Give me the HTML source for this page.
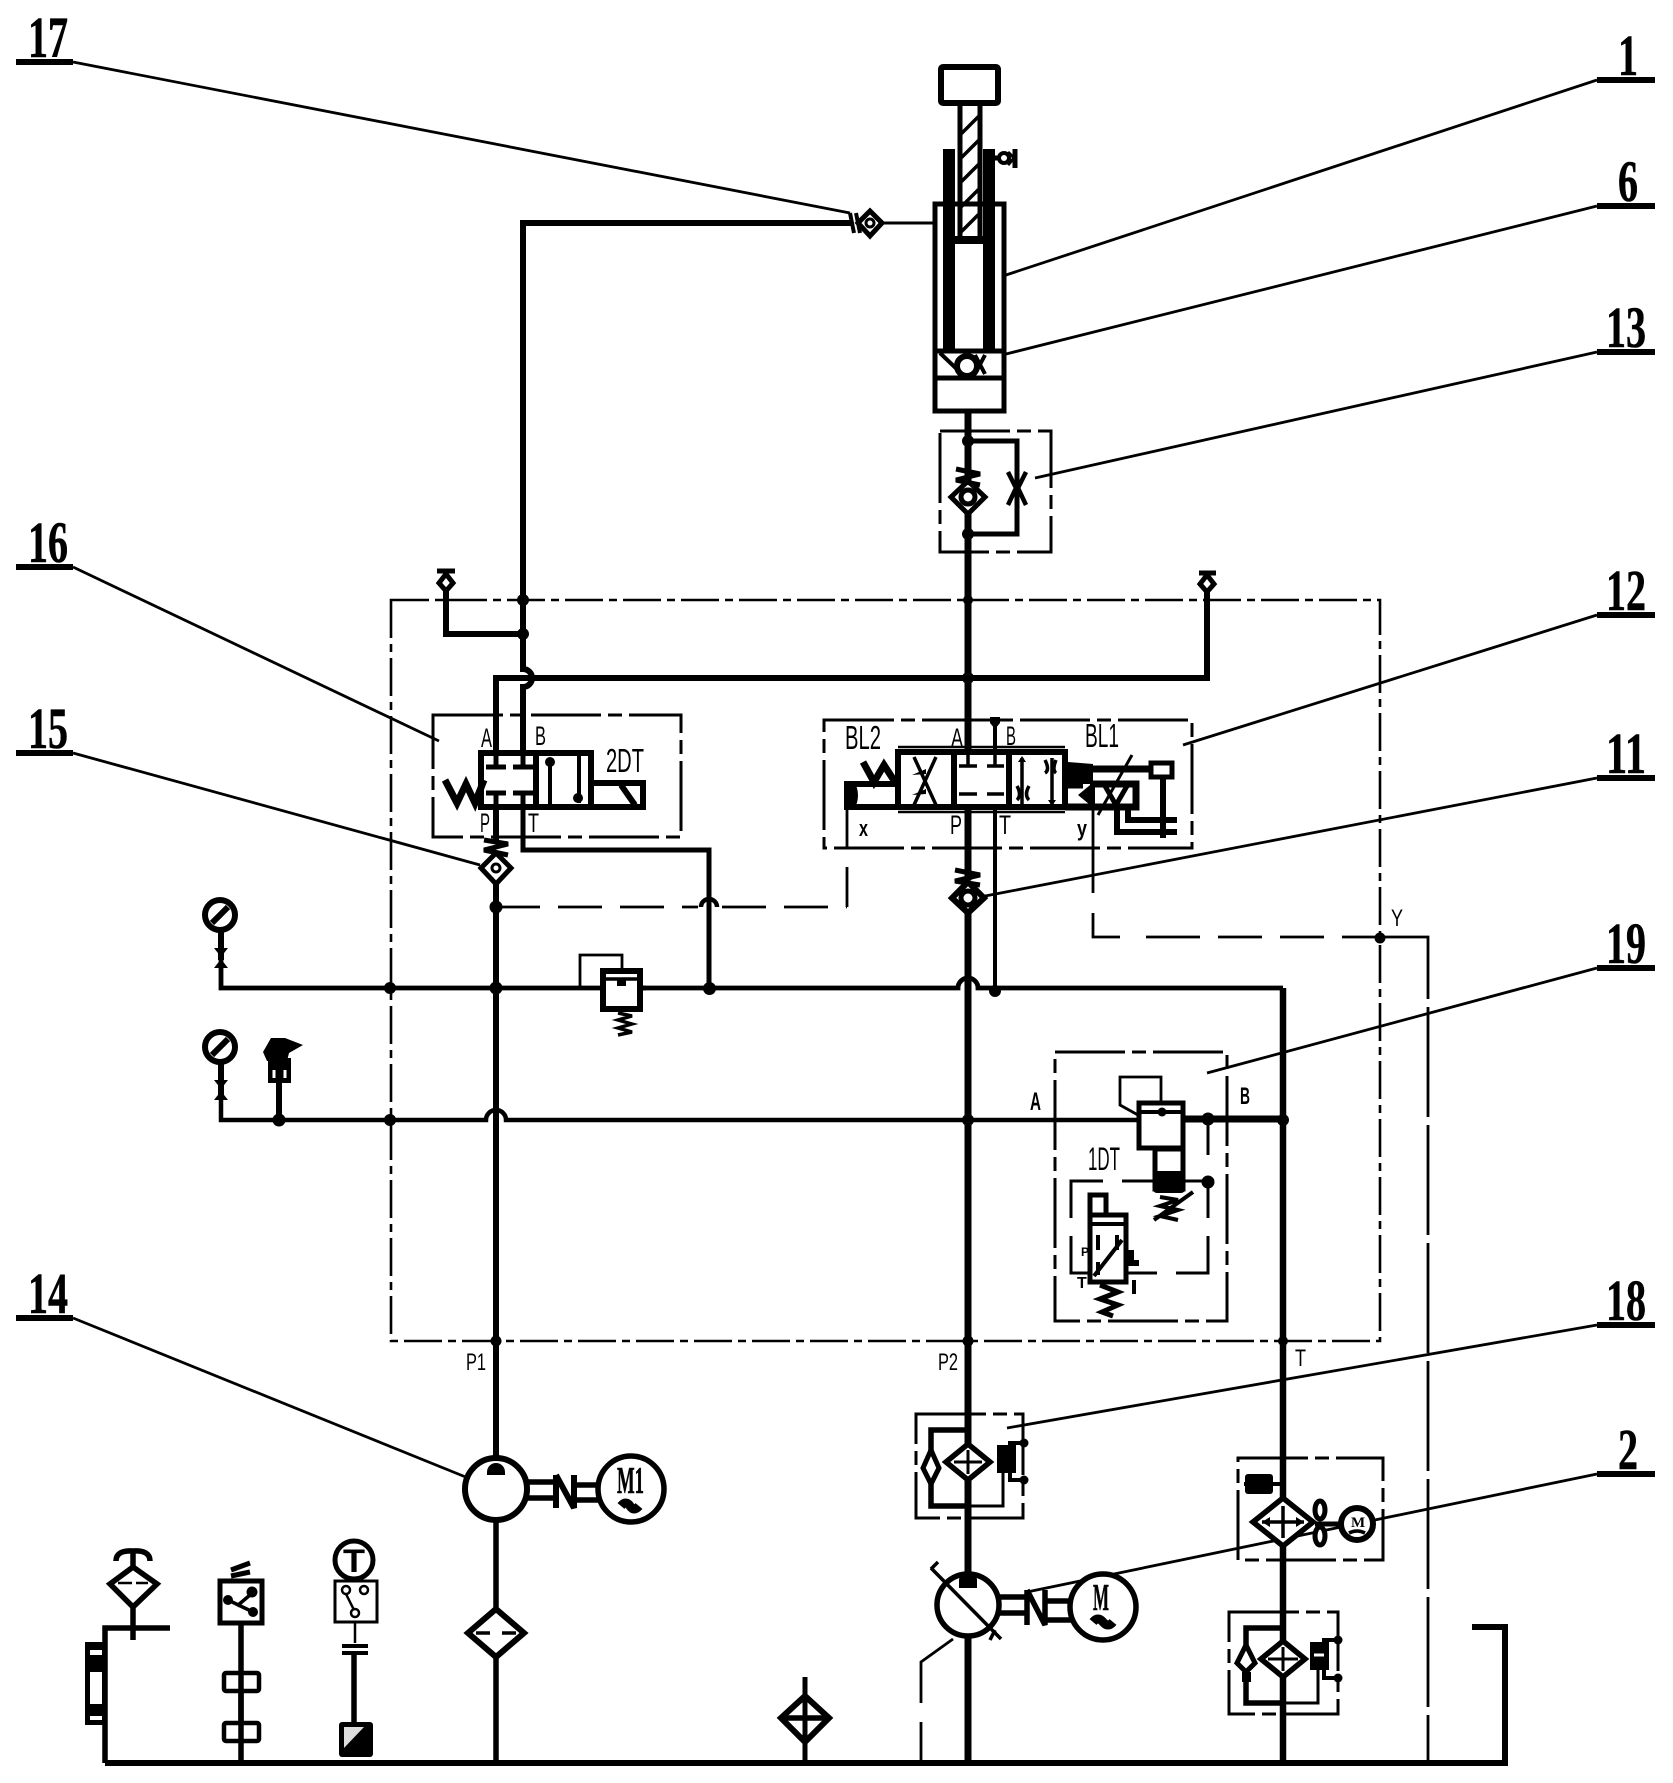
<!DOCTYPE html>
<html><head><meta charset="utf-8"><style>
html,body{margin:0;padding:0;background:#fff}
svg{display:block}
.n{font-family:"Liberation Serif",serif;font-weight:bold;font-size:58px;fill:#000;stroke:#000;stroke-width:.6}
.s{font-family:"Liberation Sans",sans-serif;font-size:27px;fill:#000}
.b{font-family:"Liberation Serif",serif;font-weight:bold;font-size:22px;fill:#000}
.f{fill:none;stroke:#000;stroke-linejoin:miter}
.w{fill:#fff;stroke:#000}
.k{fill:#000}
</style></head><body>
<svg xmlns="http://www.w3.org/2000/svg" width="1673" height="1783" viewBox="0 0 1673 1783">
<rect width="1673" height="1783" fill="#fff"/>

<!-- dashed boxes -->
<g class="f" stroke-width="2.6" stroke-dasharray="38 6 8 6">
<rect x="391" y="600" width="989" height="741"/>
</g>
<g class="f" stroke-width="3" stroke-dasharray="70 7 14 7">
<rect x="433" y="715" width="248" height="122"/>
<rect x="824" y="720" width="368" height="128"/>
<rect x="1055" y="1052" width="172" height="269"/>
<rect x="940" y="431" width="111" height="121"/>
<rect x="916" y="1414" width="107" height="104"/>
<rect x="1238" y="1458" width="145" height="102"/>
<rect x="1229" y="1612" width="109" height="102"/>
</g>

<!-- pilot dashed lines -->
<g class="f" stroke-width="2.8" stroke-dasharray="44 18">
<path d="M496 907 H698"/>
</g>
<path class="f" stroke-width="2.8" stroke-dasharray="44 18" d="M722 907 H847"/>
<path class="f" stroke-width="2.8" d="M847 907 V867 M847 807 V848"/>
<path class="f" stroke-width="2.8" d="M1093 808 V893 M1093 913 V937 H1120 M1146 937 H1200"/>
<path class="f" stroke-width="2.8" stroke-dasharray="44 18" d="M1218 937 H1380"/>
<path class="f" stroke-width="2.8" stroke-dasharray="110 8" d="M1380 937 H1428 V1763"/>
<path class="f" stroke-width="2.8" d="M921 1763 V1722"/><path class="f" stroke-width="2.8" d="M921 1703 V1662 L953 1639"/>

<!-- main lines -->
<g class="f" stroke-width="6">
<path d="M523 750 V687 a9 9 0 0 0 0 -18 V223 H852"/>
<path d="M496 750 V678 H1207 V590"/>
<path d="M523 634 H446 V590"/>
<path d="M523 807 V850 H709 V988" stroke-width="5"/>
<path d="M496 807 V842"/><path d="M496 880 V1460" stroke-width="6"/>
<path d="M496 1520 V1762" stroke-width="5.5"/>
<path d="M221 960 V988 H958 a10 10 0 0 1 20 0 H1283" stroke-width="4.8"/>
<path d="M221 1095 V1120 H486 a10 10 0 0 1 20 0 H1138" stroke-width="4.5"/>
<path d="M1183 1119 H1283" stroke-width="7"/>
<path d="M1283 988 V1762" stroke-width="6.5"/>
<path d="M968 412 V880" stroke-width="7"/><path d="M968 905 V1575" stroke-width="7"/><path d="M968 1636 V1762" stroke-width="7"/>
<path d="M995 722 V988" stroke-width="4"/>
<path d="M968 441 H1017 V534 H968" stroke-width="5"/>
<path d="M105 1763 V1628 H170" stroke-width="5.5"/>
<path d="M105 1763 H1505 V1627 H1472" stroke-width="6"/>
</g>
<path class="f" stroke-width="3" d="M882 223 H935"/>
<path d="M701 907 a8 8 0 0 1 16 0" class="f" stroke-width="4.5"/>

<!-- nodes -->
<g class="k">
<circle cx="523" cy="600" r="6"/><circle cx="523" cy="634" r="6"/>
<circle cx="968" cy="600" r="5"/><circle cx="968" cy="678" r="6"/>
<circle cx="496" cy="907" r="6.5"/><circle cx="390" cy="988" r="6"/><circle cx="496" cy="988" r="6.5"/>
<circle cx="709.5" cy="988.5" r="6.5"/><circle cx="995" cy="991" r="6"/>
<circle cx="279" cy="1120" r="6.5"/><circle cx="390" cy="1120" r="6"/><circle cx="968" cy="1120" r="6"/>
<circle cx="1208" cy="1119" r="6.5"/><circle cx="1283" cy="1120" r="6"/>
<circle cx="496" cy="1341" r="5.5"/><circle cx="968" cy="1341" r="5.5"/><circle cx="1283" cy="1341" r="5"/>
<circle cx="1380" cy="938" r="5.5"/><circle cx="968" cy="441" r="6"/><circle cx="968" cy="534" r="6"/>
</g>

<!-- leaders -->
<g class="f" stroke-width="2.8">
<path d="M73 62 L850 213"/><path d="M1597 80 L1006 275"/><path d="M1597 206 L1006 354"/>
<path d="M1597 352 L1035 478"/><path d="M1597 615 L1183 745"/><path d="M1597 778 L980 897"/>
<path d="M1597 968 L1207 1073"/><path d="M1597 1325 L1007 1428"/><path d="M1597 1474 L1027 1592"/>
<path d="M73 567 L439 741"/><path d="M73 753 L480 865"/><path d="M73 1318 L478 1482"/>
</g>
<g class="k">
<rect x="16" y="59" width="57" height="6"/><rect x="16" y="564" width="57" height="6"/><rect x="16" y="750" width="57" height="6"/><rect x="16" y="1315" width="57" height="6"/>
<rect x="1597" y="77" width="58" height="6"/><rect x="1597" y="203" width="58" height="6"/><rect x="1597" y="349" width="58" height="6"/><rect x="1597" y="612" width="58" height="6"/><rect x="1597" y="775" width="58" height="6"/><rect x="1597" y="965" width="58" height="6"/><rect x="1597" y="1322" width="58" height="6"/><rect x="1597" y="1471" width="58" height="6"/>
</g>
<g class="n">
<text x="28" y="57" textLength="40" lengthAdjust="spacingAndGlyphs">17</text>
<text x="28" y="562" textLength="40" lengthAdjust="spacingAndGlyphs">16</text>
<text x="28" y="748" textLength="40" lengthAdjust="spacingAndGlyphs">15</text>
<text x="28" y="1313" textLength="40" lengthAdjust="spacingAndGlyphs">14</text>
<text x="1618" y="75" textLength="20" lengthAdjust="spacingAndGlyphs">1</text>
<text x="1618" y="201" textLength="20" lengthAdjust="spacingAndGlyphs">6</text>
<text x="1606" y="347" textLength="40" lengthAdjust="spacingAndGlyphs">13</text>
<text x="1606" y="610" textLength="40" lengthAdjust="spacingAndGlyphs">12</text>
<text x="1606" y="773" textLength="40" lengthAdjust="spacingAndGlyphs">11</text>
<text x="1606" y="963" textLength="40" lengthAdjust="spacingAndGlyphs">19</text>
<text x="1606" y="1320" textLength="40" lengthAdjust="spacingAndGlyphs">18</text>
<text x="1618" y="1469" textLength="20" lengthAdjust="spacingAndGlyphs">2</text>
</g>

<!-- cylinder -->
<g>
<rect x="941" y="67" width="57" height="36" class="w" stroke-width="6" rx="2"/>
<rect x="935" y="204" width="69" height="207" class="w" stroke-width="5"/>
<rect x="943" y="149" width="12" height="201" class="k"/><rect x="983" y="149" width="12" height="201" class="k"/>
<rect x="955" y="236" width="28" height="8" class="k"/>
<path class="f" stroke-width="5" d="M960 103 V236 M980 103 V236"/>
<path class="f" stroke-width="3.5" d="M960 135 L980 115 M960 159 L980 139 M960 183 L980 163 M960 208 L980 188 M960 233 L980 213"/>
<path class="f" stroke-width="5" d="M935 351 H1004 M935 378 H1004" />
<path class="f" stroke-width="4" d="M940 353 L962 374 M975 374 L985 355 M985 374 L975 355"/>
<circle cx="967" cy="366" r="10" class="w" stroke-width="6"/>
<path class="f" stroke-width="5" d="M995 158 H1000"/>
<circle cx="1004" cy="158" r="5" class="w" stroke-width="4"/>
<path class="f" stroke-width="5" d="M1015 149 V168"/>
<path class="f" stroke-width="3" d="M1008 152 L1014 158 L1008 165"/>
</g>

<!-- check valves + springs -->
<g>
<polygon points="968,481 985,497 968,514 951,497" class="w" stroke-width="5"/>
<circle cx="968" cy="497" r="7" class="w" stroke-width="5"/>
<path class="f" stroke-width="5" d="M956 469 L980 474 L956 480 L980 485"/>
<path class="f" stroke-width="4.5" d="M1008 472 L1016 488 L1008 505 M1026 472 L1018 488 L1026 505"/>

<polygon points="496,853 511,868 496,884 481,868" class="w" stroke-width="5"/>
<circle cx="496" cy="868" r="4" class="w" stroke-width="3"/>
<path class="f" stroke-width="5" d="M484 840 L508 844 L484 850 L508 855"/>

<polygon points="968,882 984,898 968,913 952,898" class="w" stroke-width="6"/>
<circle cx="968" cy="898" r="7" class="w" stroke-width="5"/>
<path class="f" stroke-width="5" d="M955 870 L980 875 L955 881 L980 885"/>

<polygon points="870,211 882,223 870,236 858,223" class="w" stroke-width="5"/>
<circle cx="870" cy="223" r="4" class="w" stroke-width="3"/>
<path class="f" stroke-width="4" d="M850 213 L854 233 M856 213 L860 233"/>
</g>

<!-- top stops -->
<g>
<path class="f" stroke-width="5" d="M437 571 H455 M1199 573 H1216"/>
<polygon points="446,574 453,583 446,591 439,583" class="w" stroke-width="5"/>
<polygon points="1207,575 1214,584 1207,592 1200,584" class="w" stroke-width="5"/>
</g>

<!-- valve 16 -->
<g>
<rect x="481" y="753" width="110" height="54" class="w" stroke-width="6"/>
<path class="f" stroke-width="6" d="M536 753 V807"/>
<path class="f" stroke-width="4" d="M550 760 V805 M579 753 V803"/>
<circle cx="550" cy="762" r="5" class="k"/><circle cx="578" cy="798" r="5" class="k"/>
<path class="f" stroke-width="5" d="M496 753 V765 M523 753 V765 M486 767 H506 M513 767 H533 M486 793 H506 M513 793 H533 M496 795 V807 M523 795 V807"/>
<path class="f" stroke-width="7" d="M445 780 L457 803 L466 784 L475 803 L484 780"/>
<path class="f" stroke-width="6" d="M591 783 H643 V807 H591"/>
<path class="f" stroke-width="6" d="M621 785 L635 805"/>
<g class="s">
<text x="481" y="747" textLength="11" lengthAdjust="spacingAndGlyphs">A</text>
<text x="535" y="745" textLength="11" lengthAdjust="spacingAndGlyphs">B</text>
<text x="480" y="832" textLength="10" lengthAdjust="spacingAndGlyphs">P</text>
<text x="528" y="832" textLength="11" lengthAdjust="spacingAndGlyphs">T</text>
<text x="606" y="772" style="font-size:33px" textLength="38" lengthAdjust="spacingAndGlyphs">2DT</text>
</g>
</g>

<!-- valve 12 -->
<g>
<rect x="898" y="752" width="167" height="55" class="w" stroke-width="6"/>
<path class="f" stroke-width="2.5" d="M898 747 H1065 M898 812 H1065"/>
<path class="f" stroke-width="6" d="M954 752 V807 M1009 752 V807"/>
<path class="f" stroke-width="3.5" d="M914 757 L936 805 M936 757 L914 805 M1022 758 V805 M1052 758 V805"/>
<path class="k" d="M912 775 l14 -6 v5z M912 795 l14 -6 v5z M1018 762 h8 l-4 -6z M1048 800 h8 l-4 6z"/>
<path class="f" stroke-width="3.5" d="M1045 760 Q1050 770 1045 773 M1056 760 Q1052 770 1056 773 M1017 786 Q1022 795 1017 800 M1029 786 Q1024 795 1029 800"/>
<path class="f" stroke-width="3.5" d="M968 752 V766 M995 752 V766 M959 766 H977 M987 766 H1004 M959 794 H977 M987 794 H1004"/>
<rect x="847" y="784" width="51" height="23" class="f" stroke-width="6"/>
<path class="k" d="M844 781 h10 q8 14 0 29 h-10z"/>
<path class="f" stroke-width="7" d="M863 762 L874 782 L884 765 L895 782"/>
<path class="k" d="M990 717 h10 v6 l-5 6 l-5 -6z"/>
<path class="f" stroke-width="7" d="M1065 769 H1150 M1065 785 H1083 M1065 807 H1136 V784 H1090"/>
<path class="k" d="M1095 781 l-17 14 l17 14z M1068 762 l25 2 v20 h-25z"/>
<rect x="1151" y="763" width="21" height="14" class="w" stroke-width="5"/>
<path class="f" stroke-width="5" d="M1105 786 L1116 805 M1127 786 L1116 805"/>
<path class="f" stroke-width="3" d="M1098 815 L1132 755"/>
<path class="f" stroke-width="6" d="M1163 777 V838 M1128 808 V820 H1177 M1117 808 V832 H1177"/>
<g class="s">
<text x="845" y="749" style="font-size:33px" textLength="36" lengthAdjust="spacingAndGlyphs">BL2</text>
<text x="1085" y="747" style="font-size:33px" textLength="34" lengthAdjust="spacingAndGlyphs">BL1</text>
<text x="951" y="747" textLength="12" lengthAdjust="spacingAndGlyphs">A</text>
<text x="1006" y="745" textLength="10" lengthAdjust="spacingAndGlyphs">B</text>
<text x="950" y="834" textLength="12" lengthAdjust="spacingAndGlyphs">P</text>
<text x="999" y="834" textLength="12" lengthAdjust="spacingAndGlyphs">T</text>
<text x="859" y="836" style="font-size:22px;font-weight:bold" textLength="9" lengthAdjust="spacingAndGlyphs">x</text>
<text x="1077" y="836" style="font-size:22px;font-weight:bold" textLength="10" lengthAdjust="spacingAndGlyphs">y</text>
<text x="1391" y="926" style="font-size:24px" textLength="12" lengthAdjust="spacingAndGlyphs">Y</text>
<text x="1030" y="1110" style="font-size:25px;font-weight:bold" textLength="11" lengthAdjust="spacingAndGlyphs">A</text>
<text x="1240" y="1104" style="font-size:24px;font-weight:bold" textLength="10" lengthAdjust="spacingAndGlyphs">B</text>
<text x="466" y="1370" style="font-size:24px" textLength="20" lengthAdjust="spacingAndGlyphs">P1</text>
<text x="938" y="1370" style="font-size:24px" textLength="20" lengthAdjust="spacingAndGlyphs">P2</text>
<text x="1295" y="1366" style="font-size:24px" textLength="11" lengthAdjust="spacingAndGlyphs">T</text>
<text x="1088" y="1170" style="font-size:32px" textLength="32" lengthAdjust="spacingAndGlyphs">1DT</text>
</g>
</g>

<!-- gauges -->
<g>
<circle cx="220" cy="915" r="15" class="w" stroke-width="6"/>
<path class="f" stroke-width="6" d="M212 923 L228 907"/>
<circle cx="220" cy="1047" r="15" class="w" stroke-width="6"/>
<path class="f" stroke-width="6" d="M212 1055 L228 1039"/>
<path class="f" stroke-width="6" d="M221 932 V960 M221 1063 V1095"/>
<path class="k" d="M214 948 h14 l-7 9z M214 968 h14 l-7 -9z M214 1080 h14 l-7 9z M214 1100 h14 l-7 -9z"/>
<rect x="268" y="1058" width="23" height="25" class="k"/>
<path class="k" d="M263 1052 l8 -14 h14 l18 7 l-14 8 l-2 8 h-20z"/>
<path class="f" stroke="#fff" style="stroke:#fff" stroke-width="3" d="M274 1070 v8 M285 1070 v8"/>
<path class="f" stroke-width="6" d="M279 1083 V1120"/>
</g>

<!-- relief valve -->
<g>
<path class="f" stroke-width="2.8" d="M580 988 V955 H622 V970"/>
<rect x="603" y="971" width="37" height="38" class="w" stroke-width="6"/>
<path class="f" stroke-width="3.5" d="M605 979 H638"/><rect x="617" y="979" width="9" height="7" class="k"/>
<path class="f" stroke-width="3.5" d="M618 1013 L632 1016 L618 1020 L632 1024 L618 1028 L632 1032 L618 1035"/>
<path class="f" stroke-width="5" d="M640 988 H646"/>
</g>

<!-- valve 19 internals -->
<g>
<path class="f" stroke-width="2.8" d="M1138 1115 L1120 1105 V1077 H1161 V1102"/>
<rect x="1139" y="1103" width="44" height="45" class="w" stroke-width="5"/>
<path class="f" stroke-width="4" d="M1139 1112 H1183"/><circle cx="1162" cy="1112" r="4.5" class="k"/>
<rect x="1155" y="1149" width="28" height="40" class="w" stroke-width="5"/>
<rect x="1153" y="1171" width="32" height="22" rx="4" class="k"/>
<path class="f" stroke-width="4" d="M1160 1197 L1178 1200 L1160 1206 L1178 1210 L1160 1216 L1178 1220 M1154 1220 L1193 1192"/>
<path class="f" stroke-width="3" d="M1208 1119 V1155 M1208 1182 V1218 M1208 1236 V1273 H1176 M1157 1273 H1125"/>
<path class="f" stroke-width="3" d="M1208 1181 H1122 M1103 1181 H1071 V1218 M1071 1236 V1273 H1088"/>
<circle cx="1208" cy="1182" r="6.5" class="k"/>
<rect x="1090" y="1195" width="16" height="20" class="w" stroke-width="5"/>
<rect x="1090" y="1215" width="36" height="67" class="w" stroke-width="5"/>
<path class="f" stroke-width="4" d="M1090 1224 H1126 M1094 1276 L1122 1240 M1098 1235 V1250 M1117 1235 V1250 M1098 1262 V1275"/>
<path class="f" stroke-width="5" d="M1100 1285 L1118 1292 L1100 1299 L1118 1305 L1102 1312 L1113 1316"/>
<path class="k" d="M1128 1250 h6 v10 h5 v6 h-11z"/>
<text class="s" x="1081" y="1256" style="font-size:12px;font-weight:bold">P</text>
<text class="s" x="1077" y="1288" style="font-size:16px;font-weight:bold">T</text>
<rect x="1132" y="1280" width="4" height="14" class="k"/>
</g>

<!-- pump 14 + motor M1 -->
<g>
<circle cx="496" cy="1489" r="31" class="w" stroke-width="6"/>
<path class="k" d="M487 1472 a9 9 0 0 1 18 0 v3 h-18z"/>
<path class="f" stroke-width="5.5" d="M527 1482 H555 M527 1498 H555 M575 1485 H600 M575 1500 H600"/>
<path class="f" stroke-width="6" d="M556 1475 V1508 M556 1475 L574 1508 V1475"/>
<circle cx="631" cy="1489" r="33" class="w" stroke-width="5.5"/>
<text class="n" x="617" y="1493" style="font-size:38px" textLength="27" lengthAdjust="spacingAndGlyphs">M1</text>
<path class="f" stroke-width="9" d="M621 1506 q5 -6 9 0 t9 0"/>
<polygon points="496,1609 524,1633 496,1657 468,1633" class="w" stroke-width="6"/>
<path class="f" stroke-width="3.5" d="M476 1633 H490 M502 1633 H516"/>
</g>

<!-- filter 18 -->
<g>
<path class="f" stroke-width="5.5" d="M968 1430 H931 V1506 H968"/>
<polygon points="931,1450 939,1468 931,1484 923,1468" class="w" stroke-width="5"/>
<path class="f" stroke-width="3" d="M968 1506 H1003 V1470"/>
<polygon points="968,1444 990,1462 968,1480 946,1462" class="w" stroke-width="5.5"/>
<path class="f" stroke-width="3" d="M954 1462 H982 M968 1450 V1474"/>
<rect x="997" y="1445" width="19" height="28" class="k"/>
<path class="f" stroke-width="4" d="M1010 1445 V1443 H1023 M1010 1471 V1480 H1023"/>
<circle cx="1024" cy="1443" r="4.5" class="k"/><circle cx="1024" cy="1480" r="4.5" class="k"/>
</g>

<!-- pump 2 + motor -->
<g>
<circle cx="968" cy="1605" r="31" class="w" stroke-width="5.5"/>
<path class="k" d="M959 1580 a9 7 0 0 1 18 0 v8 h-18z"/>
<path class="f" stroke-width="3.5" d="M931 1568 L1001 1639"/>
<path class="f" stroke-width="3.5" d="M938 1562 L931 1569 M995 1630 L990 1640"/>
<path class="f" stroke-width="5.5" d="M999 1597 H1027 M999 1613 H1027 M1045 1601 H1072 M1045 1620 H1072"/>
<path class="f" stroke-width="5.5" d="M1027 1590 V1625 M1027 1590 L1045 1625 V1590"/>
<circle cx="1103" cy="1607" r="33" class="w" stroke-width="5.5"/>
<text class="n" x="1093" y="1610" style="font-size:38px" textLength="16" lengthAdjust="spacingAndGlyphs">M</text>
<path class="f" stroke-width="9" d="M1093 1622 q5 -6 10 0 t10 0"/>
</g>

<!-- cooler box -->
<g>
<polygon points="1283,1498 1313,1522 1283,1546 1253,1522" class="w" stroke-width="5.5"/>
<path class="f" stroke-width="3.5" d="M1262 1522 H1304 M1283 1506 V1538"/>
<path class="k" d="M1262 1522 l8 -5 v10z M1304 1522 l-8 -5 v10z"/>
<rect x="1245" y="1474" width="28" height="20" rx="3" class="k"/><path class="f" stroke-width="4" d="M1272 1484 H1284 M1244 1484 H1250"/>
<path class="f" stroke-width="5" d="M1315 1524 H1340"/>
<ellipse cx="1320" cy="1510" rx="5" ry="9" class="w" stroke-width="5"/><ellipse cx="1320" cy="1536" rx="5" ry="9" class="w" stroke-width="5"/>
<circle cx="1357" cy="1524" r="16" class="w" stroke-width="6"/>
<text class="b" x="1351" y="1527" style="font-size:15px">M</text>
<path class="f" stroke-width="3.5" d="M1349 1533 q8 -4 16 0"/>
</g>

<!-- lower filter -->
<g>
<path class="f" stroke-width="5.5" d="M1283 1628 H1246 V1703 H1283"/>
<polygon points="1246,1645 1255,1663 1246,1672 1237,1663" class="w" stroke-width="5"/>
<rect x="1242" y="1672" width="9" height="10" class="k"/>
<path class="f" stroke-width="3" d="M1283 1703 H1318 V1668"/>
<polygon points="1283,1641 1305,1659 1283,1677 1261,1659" class="w" stroke-width="5.5"/>
<path class="f" stroke-width="3" d="M1268 1659 H1298 M1283 1647 V1671"/>
<rect x="1310" y="1642" width="19" height="28" class="k"/><path class="f" style="stroke:#fff" stroke-width="3" d="M1314 1655 H1324"/>
<path class="f" stroke-width="4" d="M1324 1642 V1640 H1338 M1324 1669 V1678 H1338"/>
<circle cx="1338" cy="1640" r="4.5" class="k"/><circle cx="1338" cy="1678" r="4.5" class="k"/>
</g>

<!-- centre bottom filter -->
<g>
<path class="f" stroke-width="5" d="M805 1677 V1763"/>
<polygon points="805,1696 829,1718 805,1742 781,1718" fill="none" stroke="#000" stroke-width="6"/>
<path class="f" stroke-width="5.5" d="M784 1718 H826"/>
</g>

<!-- bottom-left instruments -->
<g>
<polygon points="133,1567 157,1584 133,1607 110,1584" class="w" stroke-width="5.5"/>
<path class="f" stroke-width="2.5" d="M118 1583 H132 M136 1583 H148"/>
<path class="f" stroke-width="5.5" d="M133 1607 V1640 M133 1553 V1567"/>
<path class="f" stroke-width="5.5" d="M116 1561 Q116 1550 133 1551 Q150 1550 150 1561"/>
<path class="k" d="M85 1642 h20 v83 h-20z"/>
<rect x="90" y="1650" width="12" height="5" fill="#fff" style="fill:#fff"/><rect x="90" y="1672" width="12" height="32" style="fill:#fff"/><rect x="90" y="1716" width="12" height="4" style="fill:#fff"/>

<rect x="220" y="1581" width="42" height="42" class="w" stroke-width="5"/>
<path class="f" stroke-width="3.5" d="M228 1600 L253 1612 M237 1606 L250 1595"/>
<circle cx="252" cy="1592" r="5.5" class="k"/><circle cx="228" cy="1600" r="5" class="k"/><circle cx="253" cy="1612" r="5" class="k"/>
<path class="f" stroke-width="5" d="M231 1576 L250 1572 M231 1570 L250 1563"/>
<path class="f" stroke-width="5.5" d="M241 1625 V1763"/>
<rect x="224" y="1673" width="35" height="18" class="w" stroke-width="4.5" rx="2"/>
<rect x="224" y="1723" width="35" height="18" class="w" stroke-width="4.5" rx="2"/>
<path class="f" stroke-width="5.5" d="M241 1673 V1742"/>

<circle cx="354" cy="1560" r="19" class="w" stroke-width="5"/>
<text x="343" y="1572" style="font-family:'Liberation Sans',sans-serif;font-weight:bold;font-size:32px" textLength="22" lengthAdjust="spacingAndGlyphs">T</text>
<rect x="335" y="1581" width="42" height="41" class="w" stroke-width="3"/>
<path class="f" stroke-width="2.5" d="M346 1594 L355 1612"/>
<circle cx="346" cy="1590" r="4" class="w" stroke-width="2.5"/><circle cx="364" cy="1590" r="4" class="w" stroke-width="2.5"/><circle cx="355" cy="1613" r="4" class="w" stroke-width="2.5"/>
<path class="f" stroke-width="2.5" d="M355 1622 V1643"/>
<path class="f" stroke-width="4" d="M342 1646 H368 M342 1653 H368"/>
<path class="f" stroke-width="5.5" d="M354 1655 V1722"/>
<rect x="339" y="1722" width="34" height="35" rx="3" class="k"/>
<polygon points="344,1748 344,1727 364,1727" style="fill:#ddd"/>
</g>
</svg>
</body></html>
